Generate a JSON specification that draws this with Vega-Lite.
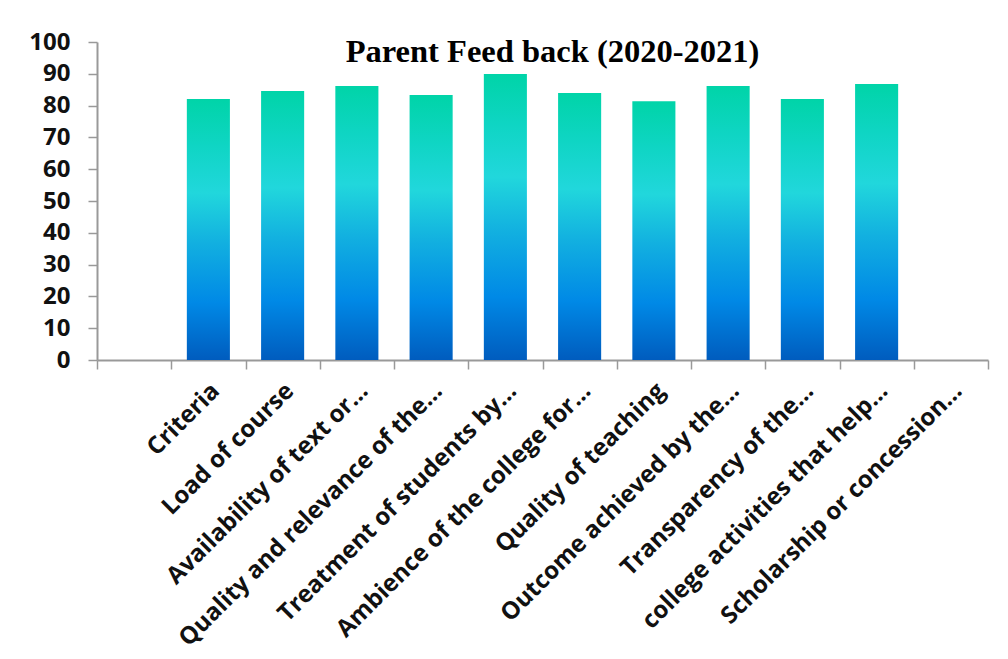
{
  "$schema": "https://vega.github.io/schema/vega-lite/v6.json",
  "autosize": {"type": "none"},
  "width": 891,
  "height": 318,
  "padding": {"left": 97, "top": 42, "right": 20, "bottom": 299},
  "background": "white",
  "title": {
    "text": "Parent Feed back (2020-2021)",
    "font": "Liberation Serif",
    "fontSize": 32.5,
    "fontWeight": "bold",
    "color": "#000000",
    "anchor": "middle",
    "baseline": "alphabetic",
    "offset": 0,
    "dy": 64,
    "dx": 10
  },
  "data": {
    "values": [
      {"criterion": "Criteria", "score": 82.1},
      {"criterion": "Load of course", "score": 84.6},
      {"criterion": "Availability of text or…", "score": 86.2},
      {"criterion": "Quality and relevance of the…", "score": 83.3},
      {"criterion": "Treatment of students by…", "score": 89.9},
      {"criterion": "Ambience of the college for…", "score": 84.0},
      {"criterion": "Quality of teaching", "score": 81.4},
      {"criterion": "Outcome achieved by the…", "score": 86.2},
      {"criterion": "Transparency of the…", "score": 82.1},
      {"criterion": "college activities that help…", "score": 86.8}
    ]
  },
  "mark": {
    "type": "bar",
    "width": {"band": 0.58},
    "color": {
      "gradient": "linear",
      "x1": 0, "y1": 1, "x2": 0, "y2": 0,
      "stops": [
        {"offset": 0, "color": "#005cbe"},
        {"offset": 0.22, "color": "#0089e6"},
        {"offset": 0.45, "color": "#12b0e0"},
        {"offset": 0.64, "color": "#21d7dc"},
        {"offset": 0.82, "color": "#0fd5c4"},
        {"offset": 1, "color": "#00d4a8"}
      ]
    }
  },
  "encoding": {
    "x": {
      "field": "criterion",
      "type": "nominal",
      "sort": null,
      "scale": {
        "domain": [" ", "Criteria", "Load of course", "Availability of text or…", "Quality and relevance of the…", "Treatment of students by…", "Ambience of the college for…", "Quality of teaching", "Outcome achieved by the…", "Transparency of the…", "college activities that help…", "Scholarship or concession…"],
        "paddingInner": 0,
        "paddingOuter": 0
      },
      "axis": {
        "title": null,
        "labelAngle": -45,
        "labelAlign": "right",
        "labelBaseline": "middle",
        "labelFont": "Open Sans",
        "labelFontWeight": "bold",
        "labelFontSize": 24,
        "labelColor": "#111111",
        "labelPadding": 18,
        "labelOffset": 7,
        "labelLimit": 500,
        "tickBand": "extent",
        "tickSize": 9,
        "tickColor": "#999999",
        "tickWidth": 1.5,
        "domainColor": "#999999",
        "domainWidth": 2
      }
    },
    "y": {
      "field": "score",
      "type": "quantitative",
      "scale": {"domain": [0, 100], "nice": false},
      "axis": {
        "title": null,
        "values": [0, 10, 20, 30, 40, 50, 60, 70, 80, 90, 100],
        "grid": false,
        "labelFont": "Open Sans",
        "labelFontWeight": "bold",
        "labelFontSize": 24,
        "labelColor": "#111111",
        "labelPadding": 18,
        "tickSize": 9,
        "tickColor": "#999999",
        "tickWidth": 1.5,
        "domainColor": "#999999",
        "domainWidth": 2
      }
    }
  },
  "config": {"view": {"stroke": null}}
}
